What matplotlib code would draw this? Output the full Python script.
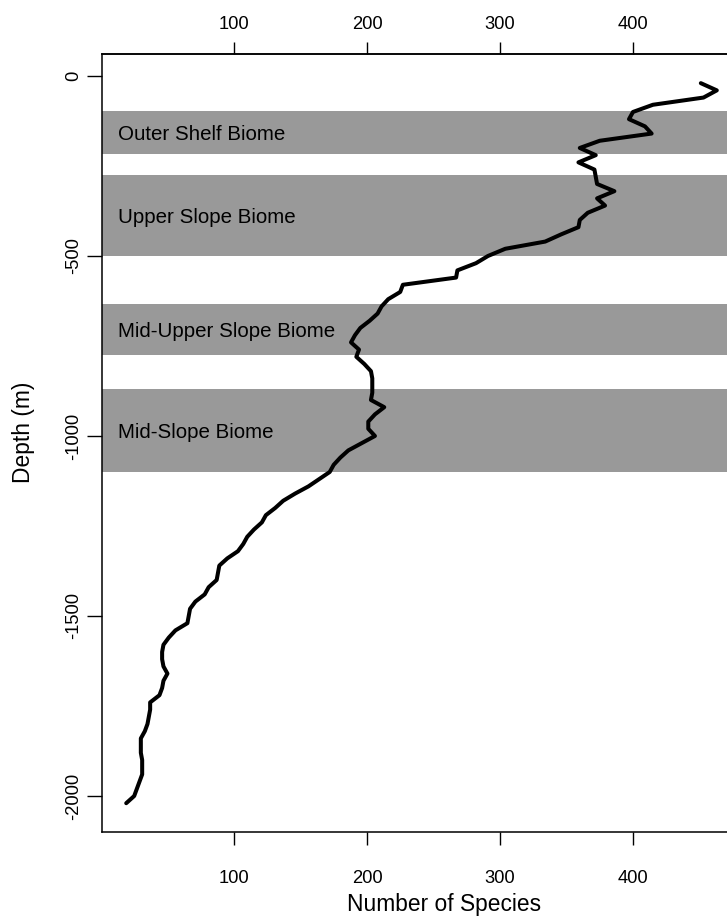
import numpy as np
import matplotlib
matplotlib.use('Agg')
import matplotlib.pyplot as plt

plt.rcParams['font.family'] = ['Liberation Sans', 'DejaVu Sans']

# species richness per 20 m depth bin
depth = [-20, -40, -60, -80, -100, -120, -140, -160, -180, -200,
         -220, -240, -260, -280, -300, -320, -340, -360, -380, -400,
         -420, -440, -460, -480, -500, -520, -540, -560, -580, -600,
         -620, -640, -660, -680, -700, -720, -740, -760, -780, -800,
         -820, -840, -860, -880, -900, -920, -940, -960, -980, -1000,
         -1020, -1040, -1060, -1080, -1100, -1120, -1140, -1160, -1180, -1200,
         -1220, -1240, -1260, -1280, -1300, -1320, -1340, -1360, -1380, -1400,
         -1420, -1440, -1460, -1480, -1500, -1520, -1540, -1560, -1580, -1600,
         -1620, -1640, -1660, -1680, -1700, -1720, -1740, -1760, -1780, -1800,
         -1820, -1840, -1860, -1880, -1900, -1920, -1940, -1960, -1980, -2000,
         -2020]
nspecies = [451, 463, 453, 415, 400, 397, 409, 414, 375, 360,
            372, 359, 371, 372, 373, 386, 373, 379, 366, 360,
            359, 346, 334, 304, 291, 282, 268, 267, 227, 225,
            216, 211, 208, 202, 195, 191, 188, 194, 192, 198,
            203, 204, 204, 204, 203, 213, 206, 201, 201, 206,
            196, 186, 180, 175, 172, 164, 156, 146, 137, 131,
            124, 121, 115, 110, 107, 103, 95, 89, 88, 87,
            81, 78, 71, 67, 66, 65, 56, 51, 47, 46,
            46, 47, 50, 47, 46, 44, 37, 37, 36, 35,
            33, 30, 30, 30, 31, 31, 31, 29, 27, 25,
            19]

# depth ranges of the biomes
biome_names = ['Outer Shelf Biome', 'Upper Slope Biome',
               'Mid-Upper Slope Biome', 'Mid-Slope Biome']
biome_top = [-97, -275, -633, -870]
biome_bottom = [-217, -500, -775, -1100]

xticks = [100, 200, 300, 400]
yticks = [0, -500, -1000, -1500, -2000]

W, H = 727, 924
fig = plt.figure(figsize=(W / 100, H / 100), dpi=100)
ax = fig.add_axes([102 / W, 1 - 832 / H, (739 - 102) / W, (832 - 54) / H])

for name, top, bot in zip(biome_names, biome_top, biome_bottom):
    ax.axhspan(bot, top, color='#999999', lw=0, zorder=1)
    ax.text(12.8, (top + bot) / 2, name, fontsize=14.8, ha='left',
            va='center_baseline', color='black', zorder=3)

ax.plot(nspecies, depth, color='black', lw=2.9, solid_joinstyle='round',
        solid_capstyle='round', zorder=4)

ax.set_xlim(0.8, 479.7)
ax.set_ylim(-2100, 61)

for s in ['left', 'bottom', 'top']:
    ax.spines[s].set_linewidth(1.1)
ax.spines['right'].set_visible(False)

ax.set_xticks(xticks)
ax.set_yticks(yticks)
ax.set_yticklabels([str(v) for v in yticks], rotation=90, va='center')
ax.tick_params(axis='x', direction='out', length=9, width=1, pad=18.4, labelsize=13.2)
ax.tick_params(axis='y', direction='out', length=10.8, width=1, pad=3.6, labelsize=13.2)

top_ax = ax.secondary_xaxis('top')
top_ax.set_xticks(xticks)
top_ax.spines['top'].set_linewidth(1.1)
top_ax.tick_params(direction='out', length=9, width=1, pad=6.2, labelsize=13.2)

fig.text(444.5 / W, 1 - 911 / H, 'Number of Species', fontsize=16.4,
         ha='center', va='baseline')
fig.text(24 / W, 1 - 432 / H, 'Depth (m)', fontsize=16.4, rotation=90,
         ha='center', va='center')

fig.savefig('out.png', dpi=100)
